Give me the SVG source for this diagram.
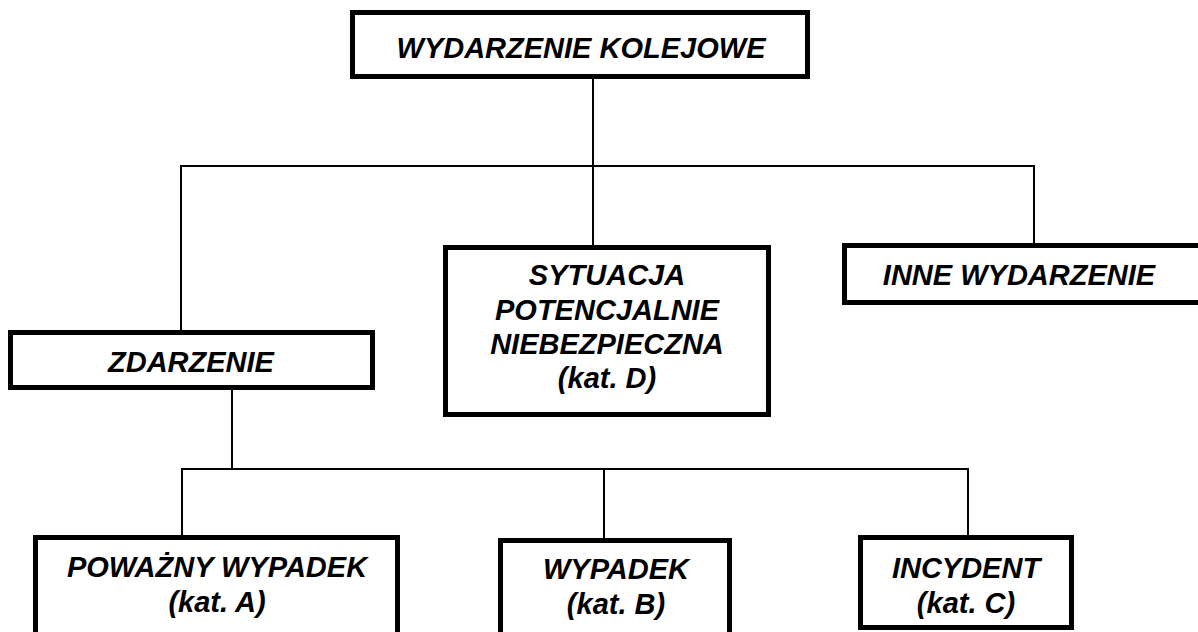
<svg xmlns="http://www.w3.org/2000/svg" width="1198" height="632" viewBox="0 0 1198 632">
<style>
.box{fill:#fff;stroke:#000;stroke-width:5}
.ln{fill:none;stroke:#000;stroke-width:2}
.t{font-family:"Liberation Sans",Arial,sans-serif;font-weight:bold;font-style:italic;font-size:29px;text-anchor:middle;fill:#000}
</style>
<rect width="1198" height="632" fill="#fff"/>
<g id="connectors">
<path class="ln" d="M593,77 V246"/>
<path class="ln" d="M181,332 V166 H1034 V244"/>
<path class="ln" d="M232,389 V470"/>
<path class="ln" d="M182,536 V469 H968 V536"/>
<path class="ln" d="M604,470 V539"/>
</g>
<g id="n-wydarzenie">
<rect class="box" x="352.5" y="12.5" width="455" height="64"/>
<text class="t" x="581" y="58">WYDARZENIE KOLEJOWE</text>
</g>
<g id="n-zdarzenie">
<rect class="box" x="10.5" y="332.5" width="362" height="55"/>
<text class="t" x="191" y="372">ZDARZENIE</text>
</g>
<g id="n-sytuacja">
<rect class="box" x="445.5" y="247.5" width="323" height="167"/>
<text class="t" x="607" y="285">SYTUACJA</text>
<text class="t" x="607" y="320">POTENCJALNIE</text>
<text class="t" x="607" y="354">NIEBEZPIECZNA</text>
<text class="t" x="607" y="388">(kat. D)</text>
</g>
<g id="n-inne">
<rect class="box" x="844.5" y="245.5" width="370" height="57"/>
<text class="t" x="1019" y="285">INNE WYDARZENIE</text>
</g>
<g id="n-powazny">
<rect class="box" x="35.5" y="537.5" width="362" height="110"/>
<text class="t" x="217" y="577">POWAŻNY WYPADEK</text>
<text class="t" x="217" y="612">(kat. A)</text>
</g>
<g id="n-wypadek">
<rect class="box" x="500.5" y="540.5" width="229" height="110"/>
<text class="t" x="616" y="579">WYPADEK</text>
<text class="t" x="616" y="614">(kat. B)</text>
</g>
<g id="n-incydent">
<rect class="box" x="860.5" y="537.5" width="211" height="90"/>
<text class="t" x="966" y="578">INCYDENT</text>
<text class="t" x="966" y="613">(kat. C)</text>
</g>
</svg>
